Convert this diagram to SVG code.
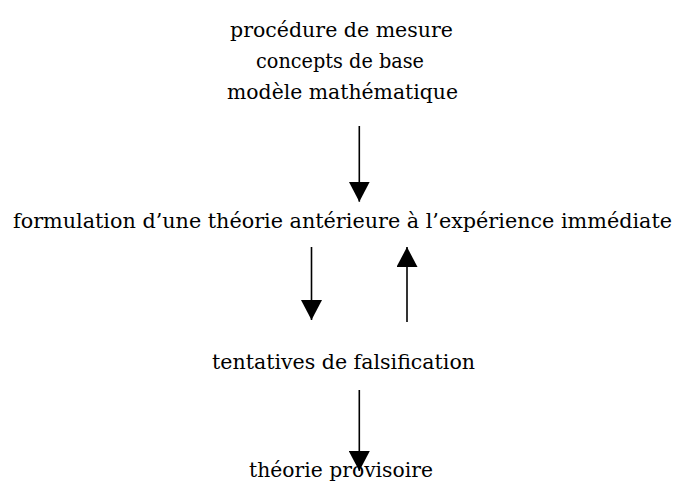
<svg xmlns="http://www.w3.org/2000/svg" width="677" height="484" viewBox="0 0 677 484">
  <style>
    .t { font-family: "DejaVu Serif", "Liberation Serif", serif; font-size: 20px; fill: #000; text-anchor: middle; }
    .c { stroke: #000; stroke-width: 1.6; fill: none; marker-end: url(#ah); }
  </style>
  <defs>
    <marker id="ah" markerUnits="userSpaceOnUse" markerWidth="20" markerHeight="21" viewBox="0 0 20 21" refX="20" refY="10.5" orient="auto">
      <path d="M0,0 L20,10.5 L0,21 Z" fill="#000"/>
    </marker>
  </defs>
  <rect width="677" height="484" fill="#fff"/>
  <g id="n-source">
    <text class="t" x="341.5" y="37" textLength="223" lengthAdjust="spacingAndGlyphs">procédure de mesure</text>
    <text class="t" x="340" y="67.5" textLength="168" lengthAdjust="spacingAndGlyphs">concepts de base</text>
    <text class="t" x="342.5" y="98.5" textLength="231" lengthAdjust="spacingAndGlyphs">modèle mathématique</text>
  </g>
  <g id="n-formulation">
    <text class="t" x="342.5" y="228" textLength="659" lengthAdjust="spacingAndGlyphs">formulation d’une théorie antérieure à l’expérience immédiate</text>
  </g>
  <g id="n-tentatives">
    <text class="t" x="343.5" y="369" textLength="263" lengthAdjust="spacingAndGlyphs">tentatives de falsification</text>
  </g>
  <g id="n-theorie">
    <text class="t" x="341" y="477" textLength="184" lengthAdjust="spacingAndGlyphs">théorie provisoire</text>
  </g>
  <g id="connectors">
    <path class="c" d="M359.3,126 L359.3,201.7"/>
    <path class="c" d="M311.5,247 L311.5,320"/>
    <path class="c" d="M407,322 L407,247"/>
    <path class="c" d="M359.3,390 L359.3,471"/>
  </g>
</svg>
